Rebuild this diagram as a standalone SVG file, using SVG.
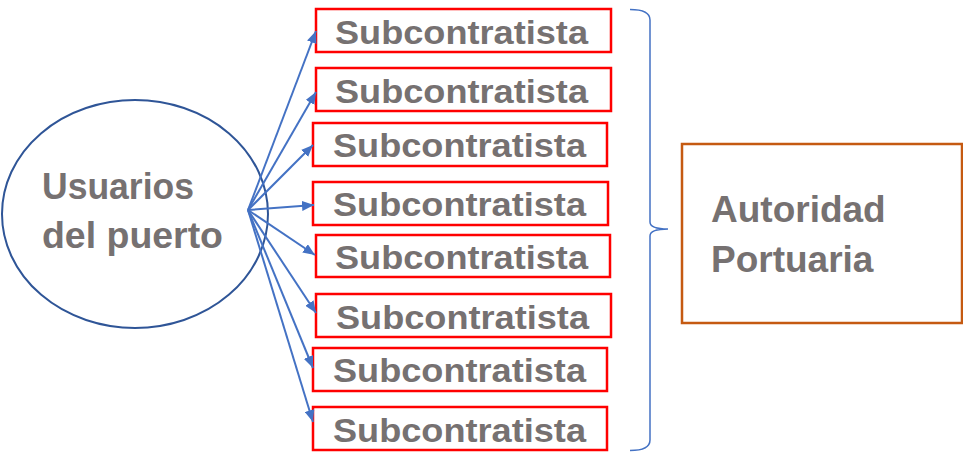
<svg xmlns="http://www.w3.org/2000/svg" width="963" height="457" viewBox="0 0 963 457">
<style>
.t{font-family:"Liberation Sans",Arial,sans-serif;font-weight:bold;fill:#767171}
.sub{font-size:34px}
.box{fill:#fff;stroke:#FF0000;stroke-width:2.5}
.arr{stroke:#4472C4;stroke-width:2;fill:none;marker-end:url(#ah)}
</style>
<defs>
<marker id="ah" viewBox="0 0 12 10" refX="12" refY="5" markerWidth="12" markerHeight="10" markerUnits="userSpaceOnUse" orient="auto">
<path d="M0,0 L12,5 L0,10 Z" fill="#4472C4"/>
</marker>
</defs>
<rect width="963" height="457" fill="#fff"/>
<g id="usuarios">
<ellipse cx="135" cy="214" rx="133" ry="114" fill="#fff" stroke="#2F5597" stroke-width="2"/>
<text class="t" x="42" y="199" font-size="36" textLength="152" lengthAdjust="spacingAndGlyphs">Usuarios</text>
<text class="t" x="42" y="248" font-size="36" textLength="181" lengthAdjust="spacingAndGlyphs">del puerto</text>
</g>
<g id="sub1"><rect class="box" x="316" y="9" width="295" height="43"/><text class="t sub" x="335" y="44" textLength="253" lengthAdjust="spacingAndGlyphs">Subcontratista</text></g>
<g id="sub2"><rect class="box" x="316" y="68" width="295" height="43"/><text class="t sub" x="335" y="103" textLength="253" lengthAdjust="spacingAndGlyphs">Subcontratista</text></g>
<g id="sub3"><rect class="box" x="313" y="123" width="294" height="43"/><text class="t sub" x="333" y="157" textLength="253" lengthAdjust="spacingAndGlyphs">Subcontratista</text></g>
<g id="sub4"><rect class="box" x="313" y="182" width="295" height="43"/><text class="t sub" x="333" y="216" textLength="253" lengthAdjust="spacingAndGlyphs">Subcontratista</text></g>
<g id="sub5"><rect class="box" x="316" y="235" width="294" height="42"/><text class="t sub" x="335" y="269" textLength="253" lengthAdjust="spacingAndGlyphs">Subcontratista</text></g>
<g id="sub6"><rect class="box" x="316" y="294" width="295" height="43"/><text class="t sub" x="336" y="329" textLength="253" lengthAdjust="spacingAndGlyphs">Subcontratista</text></g>
<g id="sub7"><rect class="box" x="313" y="348" width="294" height="43"/><text class="t sub" x="333" y="382" textLength="253" lengthAdjust="spacingAndGlyphs">Subcontratista</text></g>
<g id="sub8"><rect class="box" x="313" y="407" width="294" height="43"/><text class="t sub" x="333" y="442" textLength="253" lengthAdjust="spacingAndGlyphs">Subcontratista</text></g>
<g id="autoridad">
<rect x="682" y="144" width="280" height="179" fill="#fff" stroke="#C55A11" stroke-width="2.5"/>
<text class="t" x="711" y="222" font-size="37">Autoridad</text>
<text class="t" x="711" y="272" font-size="37">Portuaria</text>
</g>
<g id="connectors">
<line class="arr" x1="248" y1="210" x2="316" y2="31"/>
<line class="arr" x1="248" y1="210" x2="316" y2="92"/>
<line class="arr" x1="248" y1="210" x2="313" y2="145"/>
<line class="arr" x1="248" y1="210" x2="314" y2="205"/>
<line class="arr" x1="248" y1="210" x2="315" y2="255"/>
<line class="arr" x1="248" y1="210" x2="316" y2="313"/>
<line class="arr" x1="248" y1="210" x2="313" y2="368"/>
<line class="arr" x1="248" y1="210" x2="313" y2="422"/>
<path id="brace" d="M630,9.5 Q650,9.5 650,20 L650,222 Q650,229 668,229 Q650,229 650,236 L650,440 Q650,450.5 630,450.5" fill="none" stroke="#4472C4" stroke-width="1.5"/>
</g>
</svg>
